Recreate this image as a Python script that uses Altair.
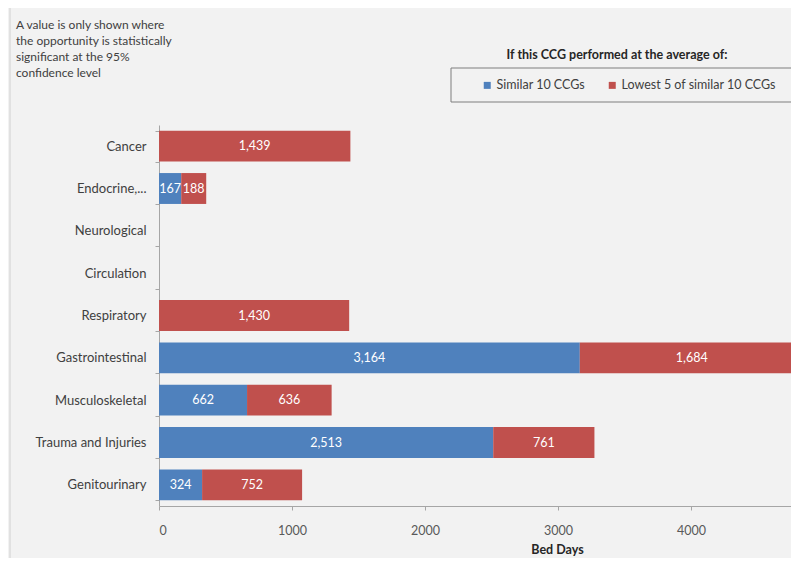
import altair as alt
import pandas as pd

categories = ["Cancer", "Endocrine,...", "Neurological", "Circulation", "Respiratory",
              "Gastrointestinal", "Musculoskeletal", "Trauma and Injuries", "Genitourinary"]
series_names = ["Similar 10 CCGs", "Lowest 5 of similar 10 CCGs"]
similar_10 = [None, 167, None, None, None, 3164, 662, 2513, 324]
lowest_5 = [1439, 188, None, None, 1430, 1684, 636, 761, 752]
x_ticks = [0, 1000, 2000, 3000, 4000]
note_lines = ["A value is only shown where", "the opportunity is statistically",
              "significant at the 95%", "confidence level"]
legend_heading = "If this CCG performed at the average of:"

rows = []
for i, c in enumerate(categories):
    for k, vals in enumerate([similar_10, lowest_5]):
        v = vals[i]
        if v is not None:
            rows.append({"category": c, "series": series_names[k], "value": v, "order": k})
df = pd.DataFrame(rows)

FONT = "Lato"
W, H = 632, 381

color = alt.Color("series:N", scale=alt.Scale(domain=series_names, range=["#4f81bd", "#c0504d"]),
                  legend=alt.Legend(title=None, orient="none", legendX=322, legendY=-46,
                                    direction="horizontal", symbolType="square", symbolSize=49,
                                    labelFontSize=12.5, labelFont=FONT, labelColor="#404040",
                                    labelOffset=3, columnPadding=21, padding=0,
                                    symbolStrokeWidth=0))

base = alt.Chart(df).transform_stack(
    stack="value", as_=["x0", "x1"], groupby=["category"], sort=[alt.SortField("order")]
).transform_calculate(mid="(datum.x0 + datum.x1) / 2")

yscale = alt.Scale(domain=categories, paddingInner=0.27, paddingOuter=0.135)
yenc = alt.Y("category:N", sort=categories, title=None, scale=yscale,
             axis=alt.Axis(labelFont=FONT, labelFontSize=13, labelColor="#404040",
                           labelPadding=9, tickSize=4, tickBand="extent",
                           domainColor="#a6a6a6", tickColor="#a6a6a6"))
xscale = alt.Scale(domain=[0, 4752], nice=False, zero=True)
xaxis = alt.Axis(values=x_ticks, format="d", labelFont=FONT, labelFontSize=12.5, labelColor="#595959",
                 labelPadding=14, tickSize=4, domainColor="#a6a6a6", tickColor="#a6a6a6",
                 grid=False, title="Bed Days", titleFont=FONT, titleFontSize=12.5,
                 titleColor="#262626", titleFontWeight="bold", titleX=398, titleY=43,
                 titleBaseline="middle", titleAlign="center")

bars = base.mark_bar(clip=True).encode(
    x=alt.X("x0:Q", scale=xscale, axis=xaxis),
    x2="x1:Q",
    y=yenc,
    color=color,
)
labels = base.mark_text(color="white", font=FONT, fontSize=12.5, baseline="middle").encode(
    x=alt.X("mid:Q", scale=xscale),
    y=alt.Y("category:N", sort=categories, scale=yscale),
    text=alt.Text("value:Q", format=","),
)

one = pd.DataFrame({"a": [0]})
note = alt.Chart(one).mark_text(align="left", baseline="middle", font=FONT, fontSize=12,
                                color="#404040", lineHeight=16).encode(
    x=alt.value(-143), y=alt.value(-100), text=alt.value(note_lines))
heading = alt.Chart(one).mark_text(align="center", baseline="middle", font=FONT, fontSize=12.5,
                                   fontWeight="bold", color="#262626").encode(
    x=alt.value(458), y=alt.value(-70), text=alt.value(legend_heading))
box = alt.Chart(one).mark_rect(fill=None, stroke="#7f7f7f", strokeWidth=1).encode(
    x=alt.value(292), x2=alt.value(650), y=alt.value(-57), y2=alt.value(-23))
frame = alt.Chart(one).mark_rule(color="#d0d0d0", strokeWidth=1).encode(
    x=alt.value(-149), y=alt.value(-117), y2=alt.value(440))

chart = alt.layer(frame, bars, labels, note, heading, box).properties(
    width=W, height=H,
    autosize=alt.AutoSizeParams(type="none"),
    padding={"left": 151, "top": 117, "right": 0, "bottom": 52},
    background="#f2f2f2",
).configure_view(stroke=None)

chart.save("out.html", embed_options={"renderer": "svg", "actions": False})
